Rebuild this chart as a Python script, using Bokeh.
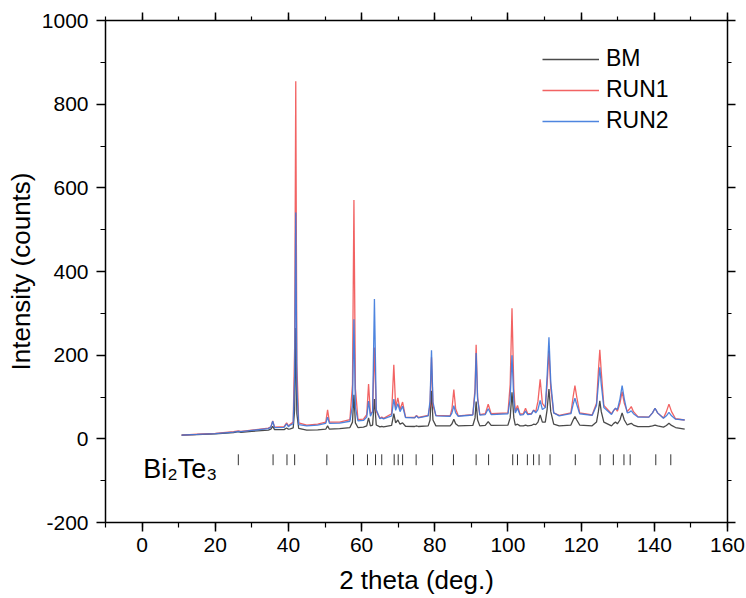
from bokeh.plotting import figure
from bokeh.models import (LinearAxis, SingleIntervalTicker, Range1d, Legend,
                          LegendItem, Label, ColumnDataSource, CustomJSTickFormatter)
from bokeh.embed import file_html
from bokeh.resources import INLINE

# ---------------- data ----------------
two_theta = [10.8, 15, 20, 25, 26.3, 27, 30, 34.5, 35.2, 35.7, 36.2, 38.8, 39.5, 40.0,
             40.5, 41.3, 41.7, 42.0, 42.3, 42.8, 45, 48, 50.2, 50.7, 51.2, 54, 56.8,
             57.5, 57.9, 58.3, 59.0, 60.5, 61.4, 61.9, 62.4, 63.0, 63.5, 64.0, 65.0,
             65.5, 66.0, 68.2, 68.8, 69.3, 69.9, 70.5, 71.2, 72, 74.5, 75, 75.5, 78.2,
             78.7, 79.1, 79.5, 80.3, 84.2, 84.7, 85.2, 85.7, 86.4, 90.4, 91.0, 91.3,
             91.7, 92.3, 93.8, 94.6, 95.4, 100.0, 100.6, 101.1, 101.6, 102.0, 102.6,
             103.3, 104.2, 104.8, 105.4, 106.4, 107.0, 107.6, 108.2, 108.8, 109.4,
             110.2, 110.7, 111.2, 111.7, 112.5, 114, 117.2, 117.8, 118.3, 118.8, 119.6,
             123, 124.2, 124.7, 125.1, 125.5, 126.2, 128.3, 128.9, 129.4, 129.9, 130.6,
             131.2, 131.8, 132.6, 133.1, 133.7, 134.3, 135.5, 138.5, 139.5, 140.2,
             140.9, 142.5, 143.3, 144.0, 144.7, 145.8, 148.3]

bm = [9, 10, 12, 15, 17, 15.5, 18, 21, 23, 30, 22, 22, 26, 23,
      24, 26, 70, 265, 60, 25, 21, 21.5, 23, 31, 23, 24.5, 27,
      40, 105, 38, 27, 28, 31, 50, 31, 33, 95, 33, 28.5,
      30, 28.5, 32, 60, 38, 45, 35, 38, 30, 29.5, 31, 29.5, 31,
      45, 115, 45, 31, 31, 36, 47, 36, 31, 32, 50, 89,
      45, 31, 32, 41, 32, 33, 50, 111, 50, 33, 35,
      31, 31, 33, 31, 32, 35, 34, 40, 57, 40,
      40, 70, 119, 65, 35, 31, 33, 45, 53, 45, 33,
      31, 40, 65, 91, 65, 40, 31, 37, 40, 36, 45,
      62, 45, 33, 35, 37, 33, 29, 29, 31, 33,
      31, 28, 32, 37, 32, 27, 23]

run1 = [9, 11, 13, 17, 19, 18, 21, 25.5, 29, 43, 28, 29, 38, 31,
        35, 40, 220, 855, 180, 38, 33, 35, 40, 69, 40, 40, 46,
        130, 571, 120, 46, 47, 58, 131, 60, 65, 218, 66, 49,
        52, 49, 60, 177, 75, 98, 70, 88, 52, 51, 56, 51, 56,
        80, 195, 80, 56, 55, 72, 118, 72, 55, 58, 120, 225,
        100, 58, 60, 83, 60, 62, 130, 312, 120, 65, 80,
        59, 60, 73, 60, 60, 69, 65, 90, 142, 85,
        75, 130, 211, 120, 62, 56, 62, 100, 127, 100, 62,
        57, 85, 160, 213, 160, 80, 60, 68, 73, 66, 85,
        113, 85, 65, 70, 77, 65, 53, 52, 62, 73,
        62, 50, 65, 83, 65, 48, 45]

run2 = [9, 10.5, 12.5, 16, 18, 17, 20, 24.5, 28, 42, 27, 27.5, 36, 29,
        33, 36, 150, 541, 120, 34, 31, 33, 37, 52, 37, 37.5, 42,
        80, 286, 75, 43, 44, 52, 90, 54, 65, 334, 70, 48,
        50, 47.5, 55, 95, 68, 84, 65, 78, 51, 50, 55, 50, 55,
        90, 212, 88, 55, 54, 62, 79, 62, 54, 57, 110, 205,
        95, 57, 58, 72, 58, 60, 95, 200, 90, 62, 73,
        57, 58, 66, 58, 59, 68, 62, 70, 92, 70,
        75, 150, 243, 135, 62, 55, 60, 82, 97, 82, 60,
        56, 80, 130, 171, 130, 75, 58, 68, 73, 70, 95,
        127, 95, 62, 63, 67, 60, 52, 52, 62, 73,
        62, 49, 55, 63, 55, 47, 45]

# Bi2Te3 reference reflection positions
ref_positions = [26.3, 35.8, 39.6, 41.7, 50.5, 57.8, 61.6, 63.8, 65.5, 68.9, 70.0,
                 71.2, 74.9, 79.4, 85.1, 91.3, 94.7, 101.3, 102.6, 105.3, 107.0,
                 108.5, 111.5, 118.4, 125.2, 128.8, 131.7, 133.4, 140.4, 144.5]

series_names = ["BM", "RUN1", "RUN2"]
x_ticks_interval = 20
y_ticks_interval = 200

# ---------------- figure ----------------
FONT = "Liberation Sans"
p = figure(width=746, height=598, output_backend="svg", toolbar_location=None,
           x_range=Range1d(-10, 160), y_range=Range1d(-200, 1000),
           x_axis_label="2 theta (deg.)", y_axis_label="Intensity (counts)",
           min_border_left=105, min_border_right=19, min_border_top=20,
           min_border_bottom=76)
p.grid.visible = False
p.outline_line_color = None
p.background_fill_color = "white"

src = ColumnDataSource(dict(x=two_theta, bm=bm, run1=run1, run2=run2))
r_bm = p.line("x", "bm", source=src, line_color="#4a4a4a", line_width=1.3)
r_r1 = p.line("x", "run1", source=src, line_color="#f04848", line_width=1.3, line_alpha=0.85)
r_r2 = p.line("x", "run2", source=src, line_color="#3b78dc", line_width=1.3, line_alpha=0.9)

# reference ticks
tick_y0, tick_y1 = -37, -63
p.segment(x0=ref_positions, y0=[tick_y0] * len(ref_positions),
          x1=ref_positions, y1=[tick_y1] * len(ref_positions),
          line_color="#333333", line_width=1)

p.add_layout(Label(x=0.3, y=-72, text="Bi\u2082Te\u2083", text_font=FONT,
                   text_font_size="27px", text_color="black",
                   text_baseline="alphabetic"))

plain_fmt = CustomJSTickFormatter(code="return tick.toString();")
blank_fmt = CustomJSTickFormatter(code="return '';")

# axes styling
def style_axis(ax, show_labels=True, tick_out=9, minor_out=5):
    ax.axis_line_color = "black"
    ax.axis_line_width = 1.5
    ax.major_tick_line_color = "black"
    ax.minor_tick_line_color = "black"
    ax.major_tick_line_width = 1.5
    ax.minor_tick_line_width = 1.2
    ax.major_tick_in = 0
    ax.major_tick_out = tick_out
    ax.minor_tick_in = 0
    ax.minor_tick_out = minor_out
    ax.major_label_text_font = FONT
    ax.axis_label_text_font = FONT
    ax.axis_label_text_font_size = "26px"
    ax.axis_label_text_font_style = "normal"
    ax.axis_label_text_color = "black"
    if show_labels:
        ax.major_label_text_font_size = "21px"
        ax.major_label_text_color = "black"
        ax.formatter = plain_fmt
    else:
        ax.major_label_text_font_size = "1px"
        ax.major_label_text_color = None
        ax.major_label_standoff = 0
        ax.formatter = blank_fmt

xt = SingleIntervalTicker(interval=x_ticks_interval, num_minor_ticks=2)
yt = SingleIntervalTicker(interval=y_ticks_interval, num_minor_ticks=2)
p.xaxis.ticker = xt
p.yaxis.ticker = yt
style_axis(p.xaxis[0])
style_axis(p.yaxis[0])
p.xaxis[0].major_label_standoff = 6
p.yaxis[0].major_label_standoff = 8
p.xaxis[0].axis_label_standoff = 10
p.yaxis[0].axis_label_standoff = 3

top = LinearAxis(ticker=SingleIntervalTicker(interval=x_ticks_interval, num_minor_ticks=2))
right = LinearAxis(ticker=SingleIntervalTicker(interval=y_ticks_interval, num_minor_ticks=2))
style_axis(top, show_labels=False, tick_out=8, minor_out=4)
style_axis(right, show_labels=False, tick_out=8, minor_out=4)
p.add_layout(top, "above")
p.add_layout(right, "right")

legend = Legend(items=[LegendItem(label=series_names[0], renderers=[r_bm]),
                       LegendItem(label=series_names[1], renderers=[r_r1]),
                       LegendItem(label=series_names[2], renderers=[r_r2])],
                location=(437, 388), glyph_width=57, glyph_height=20,
                label_height=20, spacing=4, padding=0, margin=0,
                label_standoff=7, border_line_color=None,
                background_fill_alpha=0, label_text_font=FONT,
                label_text_font_size="23px", label_text_color="black")
p.add_layout(legend)

open("out.html", "w").write(file_html(p, INLINE))
